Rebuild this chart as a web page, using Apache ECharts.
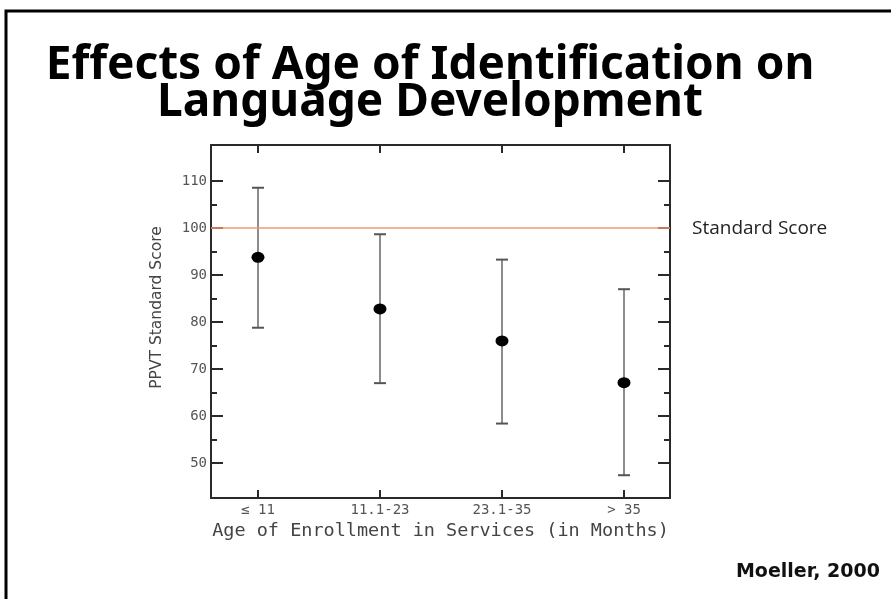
<!DOCTYPE html>
<html>
<head>
<meta charset="utf-8">
<script src="https://cdn.jsdelivr.net/npm/echarts@6/dist/echarts.min.js"></script>
<style>
html, body { margin: 0; padding: 0; background: #fff; }
#main { width: 891px; height: 599px; }
</style>
</head>
<body>
<div id="main"></div>
<script>
// data
var categories = ['≤ 11', '11.1-23', '23.1-35', '> 35'];
var meanScores = [93.8, 82.8, 76.0, 67.1];
var upperScores = [108.6, 98.7, 93.3, 87.0];
var lowerScores = [78.8, 67.0, 58.4, 47.4];
var standardScore = 100;
var yMajorTicks = [50, 60, 70, 80, 90, 100, 110];
var yMinorTicks = [55, 65, 75, 85, 95, 105];

var xPositions = categories.map(function(c, i) { return i + 1; });
var meanData = xPositions.map(function(x, i) { return [x, meanScores[i]]; });
var barData = xPositions.map(function(x, i) { return [x, upperScores[i], lowerScores[i]]; });

var inkColor = '#2a2a2a';
var labelColor = '#555';
var plotFont = 'DejaVu Sans Mono';
var X_MIN = 0.615, X_MAX = 4.377;
var Y_MIN = 42.55, Y_MAX = 117.7;

function renderErrorBar(params, api) {
	var x = api.value(0);
	var top = api.coord([x, api.value(1)]);
	var bottom = api.coord([x, api.value(2)]);
	var halfCap = 6;
	var stemStyle = { stroke: '#8c8c8c', lineWidth: 2 };
	var capStyle = { stroke: '#555', lineWidth: 2 };
	return {
		type: 'group',
		children: [{
			type: 'line',
			shape: { x1: top[0], y1: top[1], x2: bottom[0], y2: bottom[1] },
			style: stemStyle
		}, {
			type: 'line',
			shape: { x1: top[0] - halfCap, y1: top[1], x2: top[0] + halfCap, y2: top[1] },
			style: capStyle
		}, {
			type: 'line',
			shape: { x1: bottom[0] - halfCap, y1: bottom[1], x2: bottom[0] + halfCap, y2: bottom[1] },
			style: capStyle
		}]
	};
}

function xAxisFor(position, withLabels) {
	return {
		type: 'value',
		position: position,
		min: X_MIN,
		max: X_MAX,
		axisLine: { show: true, onZero: false, lineStyle: { color: inkColor, width: 2 } },
		axisTick: { show: true, inside: true, length: 8, customValues: xPositions, lineStyle: { color: inkColor, width: 2 } },
		axisLabel: {
			show: withLabels,
			customValues: xPositions,
			formatter: function(v) { return categories[Math.round(v) - 1]; },
			color: labelColor,
			fontSize: 14,
			fontFamily: plotFont,
			margin: 5
		},
		splitLine: { show: false }
	};
}

function yAxisFor(position, ticks, len, withLine, withLabels) {
	return {
		type: 'value',
		position: position,
		min: Y_MIN,
		max: Y_MAX,
		axisLine: { show: withLine, onZero: false, lineStyle: { color: inkColor, width: 2 } },
		axisTick: { show: true, inside: true, length: len, customValues: ticks, lineStyle: { color: inkColor, width: 2 } },
		axisLabel: {
			show: withLabels,
			customValues: ticks,
			color: labelColor,
			fontSize: 14,
			fontFamily: plotFont,
			margin: 4
		},
		splitLine: { show: false }
	};
}

var myChart = echarts.init(document.getElementById('main'));

var xBottom = xAxisFor('bottom', true);
xBottom.name = 'Age of Enrollment in Services (in Months)';
xBottom.nameLocation = 'middle';
xBottom.nameGap = 23;
xBottom.nameTextStyle = { color: '#444', fontSize: 18.5, fontFamily: plotFont };

var yLeft = yAxisFor('left', yMajorTicks, 12, true, true);
yLeft.name = 'PPVT Standard Score';
yLeft.nameLocation = 'middle';
yLeft.nameGap = 46;
yLeft.nameTextStyle = { color: '#444', fontSize: 15.5, fontFamily: 'DejaVu Sans', padding: [0, 0, 0, 28] };

var option = {
	animation: false,
	backgroundColor: '#fff',
	title: [{
		text: 'Effects of Age of Identification on\nLanguage Development',
		left: 425,
		top: 42,
		textAlign: 'center',
		textStyle: {
			fontSize: 46,
			fontWeight: 'bold',
			fontFamily: 'Noto Sans',
			color: '#000',
			lineHeight: 37
		}
	}, {
		text: 'Moeller, 2000',
		right: 6,
		top: 558,
		textStyle: { fontSize: 19, fontWeight: 'bold', fontFamily: 'DejaVu Sans', color: '#111' }
	}],
	graphic: [{
		type: 'rect',
		shape: { x: 6, y: 11, width: 1000, height: 1000 },
		style: { fill: 'none', stroke: '#000', lineWidth: 3 },
		silent: true
	}],
	grid: { left: 211, right: 221, top: 145, bottom: 101, containLabel: false },
	xAxis: [xBottom, xAxisFor('top', false)],
	yAxis: [
		yLeft,
		yAxisFor('left', yMinorTicks, 6, false, false),
		yAxisFor('right', yMajorTicks, 12, true, false),
		yAxisFor('right', yMinorTicks, 6, false, false)
	],
	series: [{
		type: 'custom',
		name: 'range',
		xAxisIndex: 0,
		yAxisIndex: 0,
		renderItem: renderErrorBar,
		encode: { x: 0, y: [1, 2] },
		data: barData,
		silent: true
	}, {
		type: 'scatter',
		name: 'mean',
		xAxisIndex: 0,
		yAxisIndex: 0,
		symbol: 'circle',
		symbolSize: [13, 11],
		itemStyle: { color: '#000', opacity: 1 },
		data: meanData,
		silent: true,
		markLine: {
			silent: true,
			symbol: 'none',
			lineStyle: { color: '#ef9a70', width: 1.5, type: 'solid' },
			label: {
				show: true,
				position: 'end',
				distance: 22,
				formatter: 'Standard Score',
				color: '#222',
				fontSize: 19,
				fontFamily: 'Open Sans'
			},
			data: [{ yAxis: standardScore }]
		}
	}]
};

myChart.setOption(option);
</script>
</body>
</html>
